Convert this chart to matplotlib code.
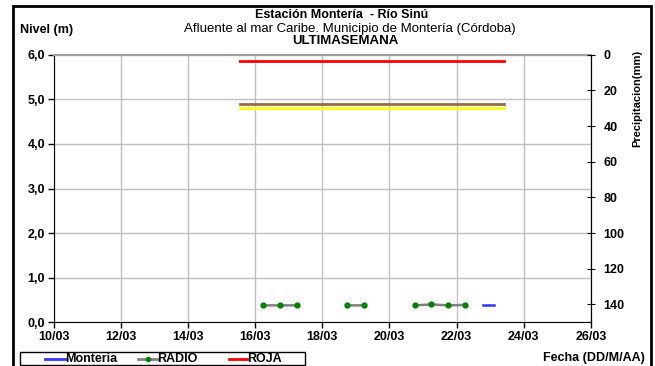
import matplotlib
matplotlib.use("Agg")
import matplotlib.pyplot as plt
import matplotlib.dates as mdates
from matplotlib.patches import Rectangle
from matplotlib.lines import Line2D
import numpy as np
import pandas as pd

plt.rcParams['font.family'] = ['Liberation Sans', 'DejaVu Sans']

# --- data ---
radio_times = pd.to_datetime([
    "2021-03-16 06:00", "2021-03-16 18:00", "2021-03-17 06:00", "2021-03-17 18:00",
    "2021-03-18 06:00", "2021-03-18 18:00", "2021-03-19 06:00", "2021-03-19 18:00",
    "2021-03-20 06:00", "2021-03-20 18:00", "2021-03-21 06:00", "2021-03-21 18:00",
    "2021-03-22 06:00",
])
radio_level = [0.38, 0.38, 0.38, np.nan, np.nan, 0.38, 0.38, np.nan, np.nan,
               0.38, 0.40, 0.38, 0.39]

monteria_times = pd.to_datetime(["2021-03-22 19:00", "2021-03-23 00:00", "2021-03-23 03:00"])
monteria_level = [0.38, 0.38, 0.38]

threshold_span = pd.to_datetime(["2021-03-15 13:00", "2021-03-23 10:00"])
roja_level = 5.85
naranja_level = 4.90
amarilla_level = 4.80

tick_dates = pd.date_range("2021-03-10", "2021-03-26", freq="2D")
level_ticks = [0, 1, 2, 3, 4, 5, 6]
precip_ticks = [0, 20, 40, 60, 80, 100, 120, 140]

W, H = 655, 366
fig = plt.figure(figsize=(W / 100, H / 100), dpi=100)
ax = fig.add_axes([0.0817, 0.1194, 0.8206, 0.7311])

ax.plot(threshold_span, [roja_level] * 2, color="#ff0000", lw=2, zorder=3)
ax.plot(threshold_span, [naranja_level] * 2, color="#96694a", lw=2, zorder=3)
ax.plot(threshold_span, [amarilla_level] * 2, color="#ffff00", lw=2, zorder=3)
ax.plot(radio_times, radio_level, color="#808080", lw=1.8, marker="o",
        markersize=3.5, markerfacecolor="#008000", markeredgecolor="#008000", zorder=4)
ax.plot(monteria_times, monteria_level, color="#3333ff", lw=1.8, zorder=4)

ax.set_xlim(tick_dates[0], tick_dates[-1])
ax.set_ylim(0, 6)
ax.set_xticks(tick_dates)
ax.xaxis.set_major_formatter(mdates.DateFormatter("%d/%m"))
ax.set_yticks(level_ticks)
ax.set_yticklabels([f"{v:.1f}".replace(".", ",") for v in level_ticks])
ax.tick_params(axis="both", labelsize=9, length=4, width=1, direction="out", pad=2)
for lab in ax.get_xticklabels() + ax.get_yticklabels():
    lab.set_fontweight("bold")
ax.grid(True, color="#c0c0c0", lw=1)
ax.set_axisbelow(True)
for s in ["left", "bottom", "right"]:
    ax.spines[s].set_color("black")
ax.spines["top"].set_color("#a0a0a0")
ax.spines["top"].set_linewidth(1.5)

ax2 = ax.twinx()
ax2.set_ylim(150, 0)
ax2.set_yticks(precip_ticks)
ax2.tick_params(axis="y", labelsize=9, length=6, direction="inout", pad=6)
for lab in ax2.get_yticklabels():
    lab.set_fontweight("bold")
for s in ["top", "left", "bottom"]:
    ax2.spines[s].set_visible(False)

# titles and labels
fig.text(0.522, 0.958, "Estación Montería  - Río Sinú", ha="center", va="center",
         fontsize=9, fontweight="bold")
fig.text(0.534, 0.922, "Afluente al mar Caribe. Municipio de Montería (Córdoba)",
         ha="center", va="center", fontsize=9.5)
fig.text(0.528, 0.887, "ULTIMASEMANA", ha="center", va="center", fontsize=9.5,
         fontweight="bold")
fig.text(0.031, 0.918, "Nivel (m)", ha="left", va="center", fontsize=9, fontweight="bold")
fig.text(0.973, 0.73, "Precipitacion(mm)", ha="center", va="center", rotation=90,
         fontsize=8, fontweight="bold")
fig.text(0.984, 0.022, "Fecha (DD/M/AA)", ha="right", va="center", fontsize=9,
         fontweight="bold")

# legend box drawn like the spreadsheet legend
def fx(px):
    return px / W

def fy(py):
    return 1 - py / H

ly = fy(358.5)
fig.patches.append(Rectangle((fx(19.5), fy(365)), fx(305) - fx(19.5), fy(352) - fy(365),
                             transform=fig.transFigure, fill=False,
                             edgecolor="black", lw=1))
legend_items = [
    ("Monteria", "#3333ff", None, 45, 65),
    ("RADIO", "#808080", "#008000", 138, 157),
    ("ROJA", "#ff0000", None, 229, 247),
]
for label, color, mcolor, x0, x1 in legend_items:
    fig.add_artist(Line2D([fx(x0), fx(x1)], [ly, ly], transform=fig.transFigure,
                          color=color, lw=2))
    if mcolor:
        fig.add_artist(Line2D([fx((x0 + x1) / 2)], [ly], transform=fig.transFigure,
                              marker="o", markersize=3, color=mcolor, lw=0))
    fig.text(fx(x1 + 0.5), ly, label, ha="left", va="center", fontsize=9,
             fontweight="bold")

# outer frame
fig.patches.append(Rectangle((13 / W, -0.02), 638 / W, 1.02 - 6 / H,
                             transform=fig.transFigure, fill=False,
                             edgecolor="black", lw=2))

fig.savefig("out.png", dpi=100)
